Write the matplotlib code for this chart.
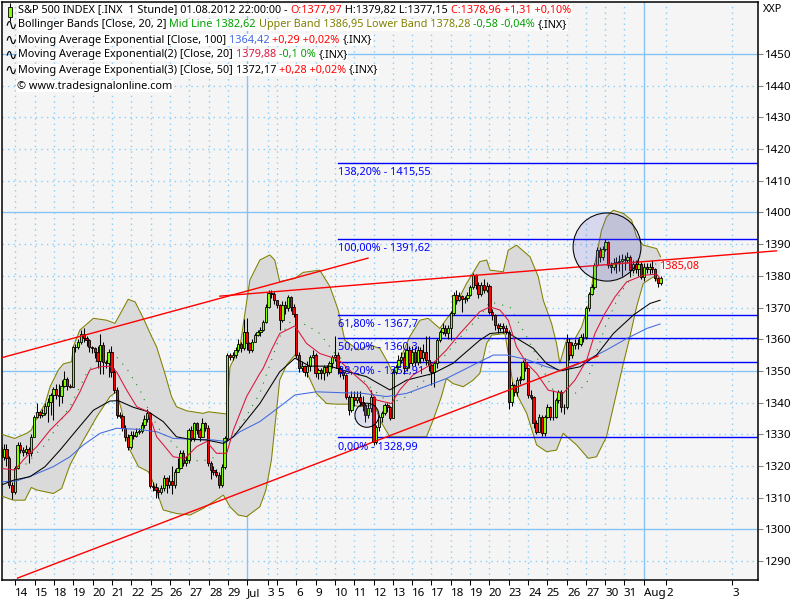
import matplotlib
matplotlib.use("Agg")
import matplotlib.pyplot as plt
from matplotlib.patches import Ellipse

plt.rcParams['font.family'] = ['Noto Sans', 'DejaVu Sans']
FS = 7.85
LW = 0.75

first_open = 1326.0
closes = [
    1322.9, 1325.5, 1322.4, 1314, 1311.9, 1319.2, 1326.6, 1325, 1324.5, 1325.2,
    1324, 1329.2, 1335.5, 1337.1, 1336.1, 1336.6, 1339, 1340.3, 1342.4, 1344.2,
    1342.4, 1342.1, 1345.2, 1347.3, 1345.2, 1345, 1357.6, 1357.4, 1359.2, 1361.8,
    1360.3, 1359.7, 1357.6, 1357.1, 1356, 1353.2, 1358.2, 1352.9, 1352.6, 1356,
    1349.7, 1344, 1336.1, 1335.9, 1331.9, 1329.2, 1326.1, 1329.8, 1329.6, 1330.8,
    1331.1, 1332.9, 1334.7, 1336.6, 1313.7, 1313.4, 1312.4, 1311.9, 1312.9, 1316.1,
    1314, 1315.3, 1314, 1318.2, 1319.2, 1324, 1320.8, 1321.9, 1331.3, 1328.7,
    1333.6, 1331.3, 1329.2, 1333.6, 1331.9, 1320.8, 1318.7, 1318.2, 1317.1, 1314,
    1319.8, 1328.7, 1355, 1354.5, 1355, 1356.6, 1358.5, 1357.1, 1362.4, 1358.7,
    1356.6, 1359.2, 1361.3, 1362.4, 1362.9, 1365.5, 1370.3, 1374.5, 1374.3, 1372.4,
    1370.8, 1366.1, 1370.8, 1369.7, 1373.2, 1370.3, 1367.9, 1355, 1350.8, 1351.5,
    1349.7, 1351.5, 1354.5, 1355, 1349.2, 1350.3, 1349.4, 1351.1, 1349.7, 1352.4,
    1354.5, 1355, 1350.8, 1349.7, 1348.7, 1341.9, 1337.6, 1341.9, 1340.8, 1341.9,
    1340.3, 1339.2, 1336.1, 1338.2, 1341.9, 1327.7, 1332.4, 1335.5, 1336.6, 1339.2,
    1338.7, 1335, 1349.7, 1351.3, 1353.4, 1354.5, 1350.8, 1356.6, 1352.4, 1356,
    1352.9, 1356.6, 1354, 1356, 1353.4, 1351.8, 1349.7, 1352.4, 1359.7, 1362.4,
    1363.7, 1362, 1363.7, 1368.2, 1373.9, 1372.4, 1373.6, 1372.6, 1372.9, 1373.9,
    1376.6, 1380.3, 1377.1, 1374.4, 1377.1, 1375.5, 1376.8, 1368.7, 1367.6, 1364.4,
    1363.4, 1364.1, 1363.4, 1362.3, 1340.3, 1345.5, 1343.4, 1347.1, 1347.6, 1352.9,
    1350.8, 1342.4, 1341.8, 1333.4, 1330.8, 1335.5, 1330.3, 1335.5, 1338.7, 1335.5,
    1335.5, 1340.8, 1343.4, 1338.7, 1338.5, 1359.2, 1355, 1358.2, 1358.7, 1358.5,
    1360.6, 1360.6, 1369.7, 1374.4, 1376.5, 1383.4, 1388.1, 1386, 1388.6, 1390.7,
    1383.4, 1382.9, 1384.1, 1384.3, 1384.6, 1385.2, 1385, 1385.8, 1381.8, 1383.9,
    1382.3, 1383.9, 1379.5, 1382.9, 1382.3, 1382.9, 1382.3, 1379.2, 1377.8, 1379.2,
]
highs = [
    1329, 1327, 1327, 1323, 1315, 1320, 1327.5, 1327.5, 1326, 1326.5,
    1326, 1330, 1336, 1340, 1337.5, 1338, 1340, 1341.5, 1343, 1345,
    1346, 1346, 1347, 1350, 1348, 1346, 1358, 1358.5, 1360, 1363,
    1363.7, 1361, 1360, 1358, 1357.5, 1358, 1361.5, 1359, 1353.5, 1357,
    1358, 1351, 1345, 1337, 1336.5, 1333, 1330, 1331, 1331, 1332,
    1332, 1334, 1336, 1338, 1337, 1315, 1314.5, 1313.5, 1314, 1317,
    1316.5, 1317, 1320, 1319, 1322.5, 1325, 1325, 1323, 1332, 1332.5,
    1334, 1334, 1332, 1335, 1334, 1333, 1321.5, 1320, 1319, 1318,
    1320.5, 1329.5, 1355.5, 1355.5, 1356, 1357.5, 1360, 1359, 1366.5, 1366.6,
    1359, 1360, 1362, 1363, 1364, 1366, 1371, 1375.5, 1375.5, 1375,
    1372.5, 1371, 1372, 1372, 1374, 1373.5, 1371, 1368, 1356, 1353,
    1352, 1353, 1355, 1356.5, 1355.5, 1351, 1351, 1352, 1352, 1353,
    1355, 1361, 1356, 1351.5, 1350, 1349, 1342.5, 1343.5, 1343.5, 1343.5,
    1343.5, 1342, 1340, 1340, 1344, 1342, 1333, 1336, 1337.5, 1340,
    1340, 1339, 1350.5, 1352, 1355, 1356, 1356, 1358, 1358, 1358,
    1357.5, 1358, 1357.5, 1358.5, 1361, 1361, 1352.5, 1353, 1360.5, 1363,
    1365, 1364.5, 1364.5, 1369, 1375, 1375.5, 1375, 1374, 1373.5, 1375,
    1377, 1381, 1380.5, 1378, 1378, 1379, 1378, 1377.5, 1369.5, 1368,
    1365, 1365, 1365, 1364.5, 1363, 1346.5, 1346, 1348, 1348.5, 1353.5,
    1354, 1351, 1344, 1342, 1334.5, 1336.5, 1336, 1336, 1339.5, 1339,
    1344, 1341.5, 1344, 1344, 1339.5, 1361.5, 1360.5, 1359, 1360, 1360,
    1361.5, 1362, 1370.5, 1375, 1377.5, 1384, 1389, 1389, 1389.5, 1391.5,
    1391, 1384.5, 1385.5, 1386, 1386.5, 1387, 1386.5, 1387.5, 1386.5, 1385,
    1385, 1385.5, 1384.5, 1384, 1384, 1384, 1385, 1382.5, 1379.5, 1379.8,
]
lows = [
    1321, 1322, 1320, 1313, 1309.5, 1311, 1319, 1324, 1323, 1323.5,
    1321, 1323, 1329, 1335, 1335, 1335.5, 1336, 1334, 1336, 1334.5,
    1341, 1339, 1340, 1345, 1344, 1344.5, 1345, 1356, 1357, 1358.5,
    1359, 1358, 1356, 1355.5, 1354, 1351, 1349, 1349, 1351, 1348,
    1348, 1343, 1335, 1335, 1331, 1328, 1325, 1325.5, 1328.5, 1329,
    1330, 1330.5, 1332, 1334, 1313, 1312, 1310, 1310, 1311, 1312,
    1311.5, 1313, 1311, 1313, 1318, 1319, 1320, 1320, 1321, 1328,
    1328, 1330, 1328, 1329, 1331, 1320, 1316, 1317, 1316.5, 1313,
    1313.5, 1319, 1328, 1353.5, 1353.5, 1354, 1356, 1356, 1356.5, 1356.5,
    1355.5, 1356, 1359, 1361, 1361, 1362.5, 1365, 1370, 1373, 1371,
    1370, 1363, 1365.5, 1368, 1369, 1369, 1367, 1354, 1349.5, 1350,
    1348.5, 1348, 1350, 1354, 1348, 1347.5, 1347.5, 1347, 1348.5, 1349,
    1351, 1353, 1349, 1348, 1347.5, 1341, 1336, 1337, 1339, 1340,
    1339, 1337.5, 1334, 1335, 1337, 1326.5, 1327, 1331, 1334, 1336,
    1337, 1334.5, 1335, 1349, 1351, 1352.5, 1349, 1350, 1351, 1351.5,
    1351.5, 1352, 1352.5, 1353, 1352, 1350, 1345.5, 1345, 1351, 1359,
    1361.5, 1361, 1360, 1359.7, 1367.5, 1371, 1372, 1368.7, 1371.5, 1372,
    1373.5, 1376, 1376, 1373, 1373.5, 1374.5, 1375, 1368, 1366, 1363,
    1362, 1362.5, 1362, 1361.5, 1338, 1339, 1342, 1342, 1346, 1347,
    1350, 1341.5, 1341, 1332, 1330, 1331, 1329.5, 1329.5, 1335, 1334.5,
    1334.5, 1335, 1340, 1337, 1336.5, 1338, 1353.5, 1354, 1357, 1357,
    1358, 1359, 1360, 1369, 1374, 1376, 1383, 1384.5, 1385, 1388,
    1382.5, 1381, 1382, 1381, 1381.5, 1380, 1382, 1384, 1379.5, 1381,
    1381, 1380, 1379, 1378.5, 1381, 1380.5, 1381, 1378.5, 1376.5, 1377.2,
]

upper_bars = [0.2, 5, 9.3, 11, 12.3, 16, 17.8, 20.8, 22.6, 25.6, 26.2, 28.6, 33.5, 38.3, 41.3, 46.1,
              48.6, 51.6, 54.6, 56.4, 59.4, 61.8, 63.6, 67.3, 73.3, 75.1, 81.8, 83, 86.6, 90.2,
              93.8, 97.4, 99.2, 101, 106.5, 109.5, 115.5, 119.2, 122.2, 124.6, 129.4, 133.6,
              137.3, 139.7, 142.1, 144.5, 148.1, 151.8, 154.8, 159, 163.8, 168.7, 173.5, 176,
              177.2, 182, 183.8, 186.8, 191.7, 194.7, 196.5, 199.5, 201.3, 202.5, 205, 208,
              210.4, 213.4, 215.2, 217.6, 219.4, 221.9, 225.5, 228.5, 230.3, 232.7, 237.6, 239]
upper_vals = [1330, 1328.7, 1330.3, 1331.3, 1334, 1339.7, 1345, 1350.3, 1352.2, 1352.9, 1357.6, 1362.9,
              1366.6, 1366, 1365, 1372.6, 1371.8, 1366.6, 1360.8, 1357.6, 1349.2, 1341.9, 1338.7,
              1337.4, 1336.6, 1337.1, 1336.4, 1351.3, 1357.6, 1378.7, 1385, 1386.6, 1385, 1378.2,
              1379.2, 1381.1, 1381.8, 1376.6, 1369.2, 1359.7, 1356.6, 1358.2, 1357.1, 1353.4,
              1349.2, 1353.4, 1360.8, 1366, 1366.6, 1363.4, 1369.2, 1377.6, 1384.5, 1385, 1381.8,
              1381.3, 1388.1, 1389.7, 1386, 1379.7, 1372.3, 1365, 1358.7, 1352.4, 1360, 1360.2,
              1363.9, 1372.3, 1383.9, 1394.4, 1398.6, 1400.7, 1399.7, 1397.6, 1392.3, 1389.7,
              1388.6, 1386]
lower_bars = [0.2, 4.5, 8.7, 11, 13, 19, 22, 25, 29.2, 34.7, 39.5, 41.9, 43.7, 46.1, 49.8, 53.4, 55.8,
              58.8, 63.6, 68.5, 73.3, 80.6, 83, 86, 89, 93.8, 96, 98, 101, 103.5, 106.5, 110.7,
              114.3, 118, 121.6, 125.8, 130, 135.5, 137.3, 140.9, 154.2, 156.6, 159.6, 161.4,
              163.8, 167.5, 171.1, 173.5, 176, 177.8, 182.6, 184.4, 185.6, 187.4, 190.5, 194.1,
              197.7, 201.3, 203.7, 208.6, 212.8, 215.8, 219.4, 221.9, 225.5, 227.9, 230.3, 232.7,
              236.4, 238.8]
lower_vals = [1310.5, 1309.2, 1309.2, 1313.2, 1312.4, 1311.3, 1312.9, 1320.3, 1327.1, 1335.5, 1341.9,
              1343.4, 1337.6, 1326.1, 1319.8, 1318.2, 1313.5, 1306.1, 1305, 1304.5, 1306.6, 1310.8,
              1307.1, 1304.5, 1304, 1307.1, 1312.4, 1321.9, 1347.1, 1351.9, 1355, 1349.7, 1342.9,
              1339.7, 1339.5, 1339.5, 1338.7, 1339.2, 1334.5, 1329.2, 1329.2, 1334.5, 1341.9,
              1347.6, 1346, 1345, 1347.1, 1349.2, 1358.7, 1361.3, 1361.8, 1352.3, 1345, 1341.8,
              1336.6, 1326.6, 1324.5, 1325, 1330.3, 1326.6, 1322.4, 1322.9, 1329.2, 1338.7, 1352.3,
              1360.8, 1370.2, 1377.6, 1379.7, 1377.6]
mid_bars = [0.2, 8.1, 16.5, 25.6, 31, 35.9, 41.3, 45.5, 50.4, 54, 57.6, 61.2, 67.3, 72.1, 78.1, 81.8,
            86.6, 93.8, 101, 105.3, 110.7, 115.5, 121, 126.4, 133.6, 140.9, 147, 154.2, 161.4,
            168.7, 173.5, 177.2, 184.4, 190.5, 195.3, 200.1, 207.4, 212.2, 215.2, 219.4, 224.3,
            229.1, 237.6, 238.8]
mid_vals = [1319.8, 1319.8, 1327.1, 1339.7, 1349.2, 1354.5, 1355, 1350.8, 1344, 1336.6, 1331.3, 1328.2,
            1322.9, 1321.3, 1322.9, 1326.1, 1332.4, 1342.9, 1360.8, 1366, 1364.5, 1361.8, 1355.5,
            1351.8, 1345, 1339.7, 1341.9, 1347.6, 1355.5, 1362.9, 1367.1, 1371.8, 1370.2, 1360.8,
            1352.3, 1343.9, 1342.4, 1346, 1354.5, 1365, 1374.4, 1380.2, 1383.9, 1382.6]
ema20_bars = [0.2, 5.1, 8.1, 13, 17.8, 25, 28.6, 32.2, 35.9, 39.5, 41.9, 45.5, 49.2, 53.4, 56.4, 59.4,
              62.4, 66.7, 70.9, 74.5, 78.1, 81.8, 84.2, 89, 93.8, 95, 98, 101, 106.5, 110.7, 115.5,
              122.2, 127.6, 132.4, 136.1, 141.5, 144.5, 149.3, 156.6, 161.4, 166.3, 173.5, 177.2,
              180.8, 183.8, 186.8, 190.5, 194.1, 198.3, 203.7, 208, 212.2, 215.2, 218.8, 222.5,
              226.7, 232.7, 237.6, 238.8]
ema20_vals = [1319.2, 1318.7, 1321.9, 1326.1, 1331.3, 1337.6, 1343.4, 1350.3, 1351.3, 1351.5, 1349.7,
              1344, 1338.7, 1337.1, 1329.2, 1326.1, 1322.9, 1322.4, 1326.1, 1327.7, 1324, 1324, 1331.3,
              1341.9, 1349.2, 1350.8, 1356.6, 1361.8, 1364.2, 1358.7, 1355.5, 1353.6, 1349.2, 1345.5,
              1340.8, 1339.7, 1344, 1348.7, 1352.4, 1356.6, 1361.8, 1368.7, 1370.2, 1369.2, 1366,
              1357.6, 1352.4, 1349.2, 1343.9, 1342.9, 1347.1, 1353.4, 1361.8, 1368.1, 1373.4, 1378.1,
              1380.2, 1380.5, 1379.2]
ema50_bars = [0.2, 4.5, 10.5, 16, 21.4, 27.4, 33.5, 39.5, 42.5, 48, 53.4, 58.8, 63.6, 68.5, 74.5, 80.6,
              84.2, 93.8, 101, 106.5, 111.9, 119.2, 125.8, 132.4, 140.9, 147, 156.6, 163.8, 173.5,
              177.2, 183.2, 188, 192.9, 197.7, 202.5, 209.8, 215.8, 221.9, 229.1, 235.2, 238.8]
ema50_vals = [1314, 1315.5, 1316.6, 1319.8, 1325, 1331.3, 1337.6, 1340.5, 1340.6, 1338.5, 1337.1, 1334,
              1329.2, 1328.4, 1328.2, 1327.1, 1329.2, 1339.7, 1349.7, 1354, 1351.5, 1351.5, 1349.7,
              1348.2, 1344, 1347.1, 1349.2, 1352.4, 1359.7, 1361.8, 1362.3, 1359.7, 1357.1, 1352.3,
              1350, 1351.3, 1355, 1361.8, 1367.6, 1371.3, 1372.3]
ema100_bars = [0.2, 5.7, 11.7, 19, 25, 29.8, 35.9, 41.9, 50.4, 56.4, 62.4, 69.7, 76.9, 81.8, 86.6, 93.8,
               101, 106.5, 114.3, 124, 131.2, 139.7, 147, 156.6, 161.4, 173.5, 178.4, 183.2, 190.5,
               197.7, 203.7, 212.2, 219.4, 226.7, 234, 238.8]
ema100_vals = [1315, 1315.3, 1317.1, 1319.8, 1322.9, 1326.6, 1330.3, 1331.9, 1331.5, 1330.8, 1328.7,
               1328.4, 1328.2, 1327.7, 1330.8, 1334, 1338.7, 1342.4, 1343.4, 1343.1, 1342.9, 1341.9,
               1342.9, 1346, 1347.6, 1352.9, 1355, 1355, 1353.6, 1351.3, 1350, 1353.4, 1356.6, 1360.2,
               1363.4, 1364.8]

trend_upper_bars = [0, 133]
trend_upper_vals = [1354.1, 1385.6]
trend_lower_bars = [6, 216.3]
trend_lower_vals = [1284.6, 1354.7]
trend_top_bars = [79.3, 281]
trend_top_vals = [1373.6, 1387.9]

fib_levels = [1415.55, 1391.62, 1367.7, 1360.3, 1352.91, 1328.99]
fib_labels = ['138,20% - 1415,55', '100,00% - 1391,62', '61,80% - 1367,7',
              '50,00% - 1360,3', '38,20% - 1352,91', '0,00% - 1328,99']
fib_start = 122

y_ticks = [1290, 1300, 1310, 1320, 1330, 1340, 1350, 1360, 1370, 1380, 1390, 1400, 1410, 1420, 1430, 1440, 1450]
y_solid = [1300, 1350, 1400, 1450]
x_ticks = [5.2, 12.3, 19.2, 26.1, 33.2, 40.2, 47.1, 54.2, 61.2, 68.3, 75.4, 82.2, 89.1, 96.7, 100, 106.9,
           114.1, 121, 127.9, 135.1, 142, 148.9, 155.8, 163, 169.9, 176.8, 184, 191, 197.8, 205.1,
           212, 218.9, 225.7, 233, 241, 264.9]
x_labels = ['14', '15', '18', '19', '20', '21', '22', '25', '26', '27', '28', '29', 'Jul', '3', '5', '6',
            '9', '10', '11', '12', '13', '16', '17', '18', '19', '20', '23', '24', '25', '26',
            '27', '30', '31', 'Aug', '2', '3']
x_solid = [89.1, 233]

RED = '#ff0000'
GREEN = '#00a000'
OLIVE = '#808000'
BLUE = '#4169e1'
CRIMSON = '#dc143c'
header_rows = [
    [('S&P 500 INDEX [.INX  1 Stunde] 01.08.2012 22:00:00 - ', 'black'), ('O:1377,97', RED),
     (' H:1379,82 L:1377,15 ', 'black'), ('C:1378,96 +1,31 +0,10%', RED)],
    [('Bollinger Bands [Close, 20, 2] ', 'black'), ('Mid Line 1382,62 ', GREEN),
     ('Upper Band 1386,95 Lower Band 1378,28 ', OLIVE), ('-0,58 -0,04% ', GREEN), ('{.INX}', 'black')],
    [('Moving Average Exponential [Close, 100] ', 'black'), ('1364,42 ', BLUE), ('+0,29 +0,02% ', RED),
     ('{.INX}', 'black')],
    [('Moving Average Exponential(2) [Close, 20] ', 'black'), ('1379,88 ', CRIMSON), ('-0,1 0% ', GREEN),
     ('{.INX}', 'black')],
    [('Moving Average Exponential(3) [Close, 50] ', 'black'), ('1372,17 ', 'black'), ('+0,28 +0,02% ', RED),
     ('{.INX}', 'black')],
    [('© www.tradesignalonline.com', 'black')],
]

fig = plt.figure(figsize=(8, 6), dpi=100)
ax = fig.add_axes([1.5 / 800, 1 - 580 / 600, 756.5 / 800, 578.5 / 600])
ax.set_facecolor('#f5f5f5')
ax.set_xlim(0.2, 274.3)
ax.set_ylim(1284.0, 1466.6)

# grid
for y in y_ticks:
    if y in y_solid:
        ax.axhline(y, color='#87c4f5', lw=1, zorder=1)
    else:
        ax.axhline(y, color='#87cefa', lw=1, ls=(0, (1, 3)), zorder=1)
for x in x_ticks:
    if x in x_solid:
        ax.axvline(x, color='#87c4f5', lw=1, zorder=1)
    else:
        ax.axvline(x, color='#87cefa', lw=1, ls=(0, (1, 3)), zorder=1)

# bollinger band
ax.fill(upper_bars + lower_bars[::-1], upper_vals + lower_vals[::-1], color='#dadada', lw=0, zorder=2)
ax.plot(upper_bars, upper_vals, color=OLIVE, lw=LW, zorder=3)
ax.plot(lower_bars, lower_vals, color=OLIVE, lw=LW, zorder=3)
ax.plot(mid_bars, mid_vals, color='#008000', lw=LW, ls=(0, (1, 7)), zorder=3)

# fibonacci levels
for level, label in zip(fib_levels, fib_labels):
    ax.plot([fib_start, 274.3], [level, level], color='#0000ff', lw=1, zorder=4)
    ax.annotate(label, (fib_start, level), xytext=(0, -3), textcoords='offset points',
                color='#0000ff', fontsize=FS, va='top', zorder=9)

# candles
opens = [first_open] + closes[:-1]
bars = list(range(len(closes)))
ax.vlines(bars, lows, highs, color='black', lw=LW, zorder=5)
body_colors = ['#80ff00' if c >= o else '#ff0000' for o, c in zip(opens, closes)]
ax.bar(bars, [c - o for o, c in zip(opens, closes)], bottom=opens, width=0.85,
       color=body_colors, edgecolor='black', lw=0.6, zorder=6)

# averages
ax.plot(ema100_bars, ema100_vals, color=BLUE, lw=LW, zorder=7)
ax.plot(ema50_bars, ema50_vals, color='black', lw=LW, zorder=7)
ax.plot(ema20_bars, ema20_vals, color=CRIMSON, lw=LW, zorder=7)

# trend lines
ax.plot(trend_upper_bars, trend_upper_vals, color=RED, lw=1, zorder=8)
ax.plot(trend_lower_bars, trend_lower_vals, color=RED, lw=1, zorder=8)
ax.plot(trend_top_bars, trend_top_vals, color=RED, lw=1, zorder=8, clip_on=False)
ax.text(238.8, 1383, '1385,08', color=RED, fontsize=FS, va='center', zorder=9)

# circles
ax.add_patch(Ellipse((219.6, 1389.1), 24.6, 21.5, facecolor='#6060d0', alpha=0.2, lw=0, zorder=8))
ax.add_patch(Ellipse((219.6, 1389.1), 24.6, 21.5, facecolor='none', edgecolor='black', lw=LW, zorder=8))
ax.add_patch(Ellipse((132.6, 1336), 8.7, 7.6, facecolor='#6060d0', alpha=0.15, lw=0, zorder=8))
ax.add_patch(Ellipse((132.6, 1336), 8.7, 7.6, facecolor='none', edgecolor='black', lw=LW, zorder=8))

# axes
ax.yaxis.tick_right()
ax.set_yticks(y_ticks)
ax.set_xticks(x_ticks)
ax.set_xticklabels(x_labels, ha='left')
ax.tick_params(axis='y', length=3.5, width=0.75, color='#808080', labelsize=FS + 0.5, pad=1.5)
ax.tick_params(axis='x', length=3.5, width=0.75, color='black', labelsize=FS + 0.5, pad=2.5)
for spine in ax.spines.values():
    spine.set_linewidth(1.1)
fig.text(763 / 800, 1 - 9 / 600, 'XXP', fontsize=FS, va='center')

# header
fig.canvas.draw()
renderer = fig.canvas.get_renderer()
row_y = [10, 25, 40, 55, 70, 86]
for i, (row, y) in enumerate(zip(header_rows, row_y)):
    x = 18 if i < 5 else 17
    if 0 < i < 5:
        fig.text(4 / 800, 1 - y / 600, '∿', fontsize=FS + 3, va='center', family='DejaVu Sans', zorder=11)
    if i == 0:
        ax.vlines([3.3], 1460.5, 1466, color='black', lw=LW, zorder=11)
        ax.bar([3.3], [3.4], bottom=[1461.6], width=1.4, color='#80ff00', edgecolor='black', lw=0.6, zorder=12)
    for part, color in row:
        t = fig.text(x / 800, 1 - y / 600, part, color=color, fontsize=FS, va='center', zorder=11,
                     bbox=dict(facecolor='white', edgecolor='none', pad=0.6))
        x = t.get_window_extent(renderer).x1

fig.savefig('out.png', dpi=100)
